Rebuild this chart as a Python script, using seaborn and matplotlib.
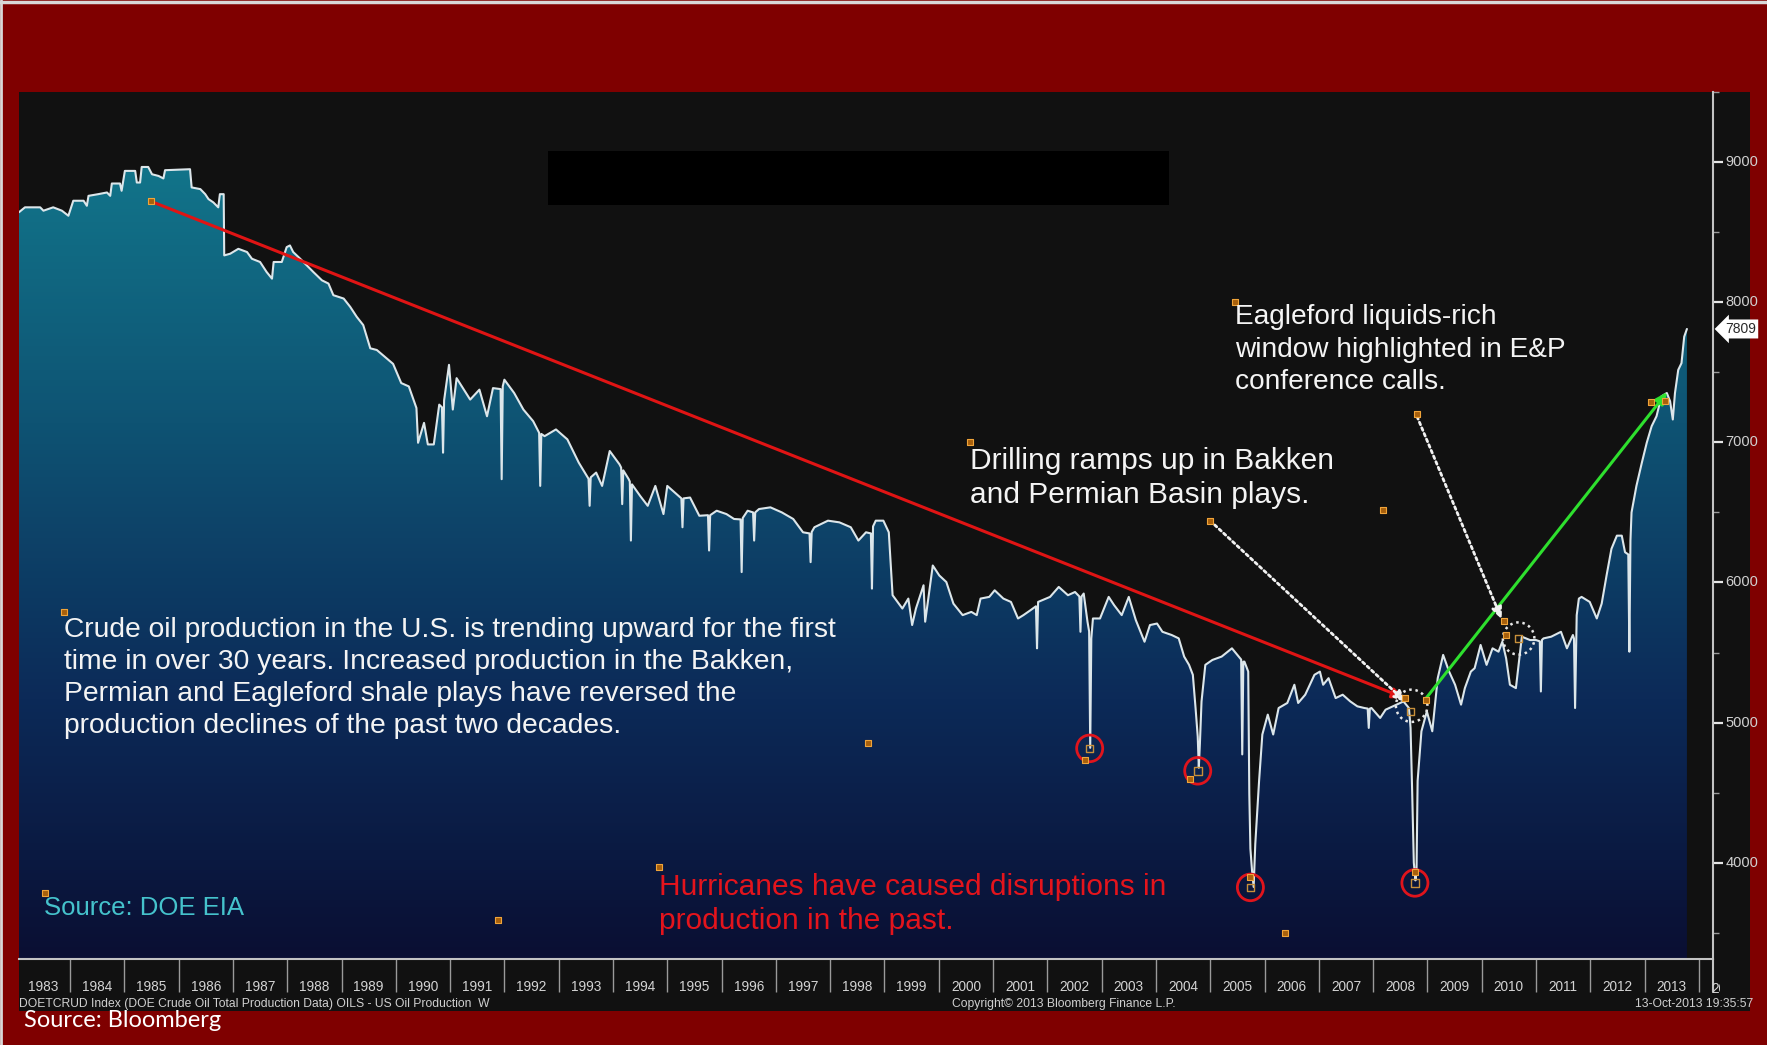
import numpy as np
import pandas as pd
import matplotlib
matplotlib.use("Agg")
import matplotlib.pyplot as plt
import seaborn as sns
from matplotlib.colors import LinearSegmentedColormap
from matplotlib.patches import Rectangle, Ellipse
from matplotlib.lines import Line2D
from matplotlib.ticker import FuncFormatter
from matplotlib.transforms import blended_transform_factory, Bbox, TransformedBbox

# US crude oil production (thousand barrels/day), weekly DOE series
dates_1980s = [1983.06, 1983.17, 1983.45, 1983.51, 1983.69, 1983.85, 1983.97, 1984.06, 1984.25, 1984.31,
               1984.34, 1984.52, 1984.68, 1984.74, 1984.77, 1984.92, 1984.95, 1985.01, 1985.20, 1985.23,
               1985.29, 1985.32, 1985.44, 1985.51, 1985.63, 1985.72, 1985.75, 1986.21, 1986.24, 1986.40,
               1986.49, 1986.55, 1986.64, 1986.73, 1986.76, 1986.83, 1986.84, 1986.95, 1987.10, 1987.26,
               1987.35, 1987.50, 1987.62, 1987.72, 1987.75, 1987.90, 1987.99, 1988.05, 1988.11, 1988.24,
               1988.36, 1988.48, 1988.64, 1988.76, 1988.85, 1989.04, 1989.16, 1989.28, 1989.40, 1989.53,
               1989.65, 1989.83, 1989.95]
prod_1980s = [8642, 8677, 8677, 8653, 8677, 8653, 8617, 8724, 8724, 8688,
              8759, 8771, 8783, 8759, 8847, 8847, 8795, 8937, 8937, 8854,
              8854, 8965, 8965, 8913, 8901, 8883, 8942, 8949, 8819, 8807,
              8771, 8736, 8712, 8677, 8771, 8771, 8334, 8346, 8381, 8358,
              8310, 8287, 8216, 8168, 8287, 8287, 8393, 8405, 8358, 8310,
              8263, 8216, 8156, 8133, 8050, 8026, 7967, 7896, 7837, 7671,
              7659, 7600, 7560]

dates_1990s = [1990.10, 1990.24, 1990.38, 1990.41, 1990.52, 1990.59, 1990.70, 1990.80, 1990.85, 1990.87,
               1990.89, 1990.98, 1991.05, 1991.12, 1991.37, 1991.54, 1991.68, 1991.79, 1991.93, 1991.95,
               1991.97, 1992.00, 1992.18, 1992.35, 1992.53, 1992.64, 1992.66, 1992.68, 1992.74, 1992.95,
               1993.16, 1993.37, 1993.52, 1993.55, 1993.57, 1993.59, 1993.69, 1993.80, 1993.94, 1994.12,
               1994.15, 1994.17, 1994.19, 1994.29, 1994.31, 1994.33, 1994.35, 1994.50, 1994.64, 1994.78,
               1994.93, 1995.00, 1995.24, 1995.26, 1995.28, 1995.30, 1995.42, 1995.59, 1995.75, 1995.77,
               1995.79, 1995.91, 1996.09, 1996.23, 1996.35, 1996.37, 1996.39, 1996.48, 1996.58, 1996.60,
               1996.62, 1996.69, 1996.90, 1997.11, 1997.32, 1997.50, 1997.62, 1997.64, 1997.66, 1997.71,
               1997.96, 1998.17, 1998.38, 1998.52, 1998.66, 1998.75, 1998.77, 1998.79, 1998.84, 1998.98,
               1999.08, 1999.15, 1999.33, 1999.44, 1999.51, 1999.58, 1999.72, 1999.75, 1999.89]
prod_1990s = [7423, 7399, 7245, 6997, 7139, 6985, 6985, 7269, 7250, 6926,
              7300, 7553, 7234, 7458, 7305, 7376, 7186, 7387, 7380, 6737,
              7400, 7447, 7352, 7234, 7151, 7068, 6689, 7060, 7044, 7092,
              7021, 6855, 6760, 6740, 6547, 6750, 6784, 6689, 6938, 6843,
              6820, 6559, 6800, 6737, 6720, 6299, 6700, 6618, 6547, 6689,
              6488, 6689, 6606, 6600, 6394, 6600, 6606, 6476, 6480, 6228,
              6480, 6512, 6488, 6453, 6450, 6074, 6460, 6512, 6500, 6299,
              6500, 6524, 6536, 6500, 6453, 6358, 6350, 6145, 6360, 6394,
              6441, 6429, 6394, 6299, 6358, 6350, 5956, 6400, 6441, 6441,
              6358, 5909, 5814, 5885, 5696, 5814, 5980, 5720, 6121]

dates_2000s = [2000.01, 2000.14, 2000.27, 2000.44, 2000.60, 2000.70, 2000.77, 2000.93, 2001.03, 2001.19,
               2001.33, 2001.46, 2001.56, 2001.69, 2001.79, 2001.81, 2001.83, 2002.05, 2002.21, 2002.38,
               2002.51, 2002.59, 2002.61, 2002.63, 2002.67, 2002.74, 2002.77, 2002.79, 2002.81, 2002.84,
               2002.97, 2003.13, 2003.23, 2003.37, 2003.50, 2003.63, 2003.79, 2003.89, 2004.02, 2004.12,
               2004.29, 2004.42, 2004.52, 2004.61, 2004.68, 2004.73, 2004.77, 2004.79, 2004.81, 2004.84,
               2004.91, 2005.04, 2005.21, 2005.40, 2005.50, 2005.57, 2005.59, 2005.61, 2005.63, 2005.70,
               2005.72, 2005.74, 2005.77, 2005.80, 2005.83, 2005.90, 2005.96, 2006.06, 2006.16, 2006.26,
               2006.42, 2006.55, 2006.62, 2006.75, 2006.92, 2007.02, 2007.08, 2007.18, 2007.31, 2007.44,
               2007.58, 2007.71, 2007.84, 2007.90, 2007.92, 2007.94, 2007.97, 2008.13, 2008.23, 2008.43,
               2008.56, 2008.66, 2008.69, 2008.72, 2008.75, 2008.78, 2008.80, 2008.82, 2008.89, 2008.99,
               2009.09, 2009.19, 2009.29, 2009.40, 2009.51, 2009.62, 2009.69, 2009.80, 2009.87, 2009.98]
prod_2000s = [6050, 6003, 5849, 5767, 5790, 5767, 5885, 5897, 5944, 5885,
              5861, 5743, 5767, 5802, 5830, 5530, 5861, 5897, 5968, 5909,
              5932, 5900, 5648, 5900, 5921, 5719, 5650, 4820, 5600, 5743,
              5743, 5897, 5838, 5767, 5897, 5731, 5577, 5696, 5707, 5648,
              5625, 5601, 5471, 5412, 5341, 5104, 4900, 4678, 4850, 5151,
              5412, 5447, 5471, 5530, 5483, 5450, 4773, 5435, 5435, 5364,
              4489, 4100, 3945, 3827, 4134, 4584, 4915, 5057, 4915, 5104,
              5140, 5270, 5140, 5199, 5341, 5364, 5270, 5317, 5175, 5199,
              5151, 5116, 5104, 5100, 4962, 5100, 5104, 5033, 5092, 5128,
              5151, 5104, 4962, 4500, 4000, 3874, 3950, 4584, 4938, 5080,
              4938, 5317, 5483, 5364, 5270, 5128, 5246, 5364, 5388, 5554]

dates_2010s = [2010.09, 2010.20, 2010.31, 2010.38, 2010.45, 2010.52, 2010.63, 2010.74, 2010.89, 2011.00,
               2011.07, 2011.09, 2011.11, 2011.14, 2011.28, 2011.46, 2011.57, 2011.68, 2011.70, 2011.72,
               2011.75, 2011.79, 2011.84, 2011.99, 2012.12, 2012.21, 2012.30, 2012.39, 2012.49, 2012.58,
               2012.64, 2012.70, 2012.72, 2012.74, 2012.76, 2012.85, 2012.95, 2013.04, 2013.13, 2013.22,
               2013.31, 2013.41, 2013.47, 2013.52, 2013.56, 2013.62, 2013.68, 2013.73, 2013.78]
prod_2010s = [5412, 5530, 5506, 5577, 5459, 5270, 5246, 5613, 5589, 5589,
              5580, 5222, 5590, 5601, 5613, 5648, 5530, 5625, 5600, 5104,
              5767, 5885, 5897, 5861, 5743, 5849, 6050, 6240, 6334, 6334,
              6216, 6200, 5506, 6300, 6500, 6689, 6855, 6997, 7115, 7186,
              7328, 7352, 7293, 7163, 7352, 7517, 7565, 7754, 7809]

year_labels = [str(y) for y in range(1983, 2014)]

# trend arrows: (start date, start value, end date, end value)
decline_trend = (1985.49, 8720, 2008.58, 5176)
recovery_trend = (2008.98, 5176, 2013.42, 7360)
drilling_pointer = (2005.00, 6440, 2008.61, 5144)
eagleford_pointer = (2008.81, 7184, 2010.37, 5736)

# hurricane outages circled in red
hurricane_dates = [2002.78, 2004.77, 2005.74, 2008.77]
hurricane_lows = [4816, 4656, 3824, 3856]

# dotted highlight rings
ring_dates = [2008.71, 2010.68]
ring_values = [5120, 5600]

# annotation anchor handles
handle_dates = [1985.49, 2005.00, 2008.81, 2000.58, 2005.45, 2008.19, 1983.88, 1998.69, 1983.54,
                1994.85, 1991.88, 2006.37, 2002.69, 2004.62, 2005.74, 2008.77, 2010.41, 2010.45,
                2008.58, 2008.98, 2013.11, 2013.38]
handle_values = [8720, 6440, 7200, 7000, 8000, 6520, 5792, 4856, 3784,
                 3968, 3592, 3496, 4736, 4600, 3896, 3936, 5728, 5624,
                 5176, 5160, 7288, 7296]
hollow_dates = [2002.78, 2004.77, 2005.74, 2008.77, 2010.68, 2008.69]
hollow_values = [4816, 4656, 3824, 3856, 5600, 5080]

dates = np.array(dates_1980s + dates_1990s + dates_2000s + dates_2010s)
production = np.array(prod_1980s + prod_1990s + prod_2000s + prod_2010s, dtype=float)
df = pd.DataFrame({"date": dates, "production": production})

sns.set_style("dark")
plt.rcParams["font.family"] = ["Liberation Sans", "DejaVu Sans"]

XMIN, XMAX = 1983.06, 2014.26
YMIN, YMAX = 3313, 9467

fig = plt.figure(figsize=(17.67, 10.45), dpi=100, facecolor="#7f0000")

# black terminal panel behind the chart
fig.add_artist(Rectangle((0.01075, 0.0325), 0.9796, 0.8794, transform=fig.transFigure,
                         facecolor="#111111", edgecolor="none", zorder=-1))
# light frame edges
fig.add_artist(Line2D([0, 1], [0.9985, 0.9985], transform=fig.transFigure, color="#d8d8d8", lw=2.5))
fig.add_artist(Line2D([0.0008, 0.0008], [0, 1], transform=fig.transFigure, color="#d8d8d8", lw=2))

ax = fig.add_axes([0.01075, 0.0823, 0.95868, 0.82966])
ax.set_facecolor("#111111")
ax.grid(False)

# vertical gradient fill under the series
cmap = LinearSegmentedColormap.from_list(
    "oilfill", [(0.0, "#0a0f33"), (0.3, "#0c2a58"), (0.62, "#0e5373"), (1.0, "#137d90")])
grad = np.linspace(0, 1, 256).reshape(-1, 1)
im = ax.imshow(grad, extent=[XMIN, XMAX, YMIN, YMAX], origin="lower", aspect="auto",
               cmap=cmap, zorder=1, interpolation="bilinear")
area = ax.fill_between(df["date"], df["production"], YMIN, facecolor="none", edgecolor="none")
im.set_clip_path(area.get_paths()[0], transform=ax.transData)

sns.lineplot(data=df, x="date", y="production", ax=ax, color="#dce6ea", lw=1.5,
             estimator=None, sort=False, zorder=3)

ax.set_xlim(XMIN, XMAX)
ax.set_ylim(YMIN, YMAX)
ax.set_xlabel("")
ax.set_ylabel("")

# spines
for s in ["top", "left"]:
    ax.spines[s].set_visible(False)
for s in ["right", "bottom"]:
    ax.spines[s].set_visible(True)
    ax.spines[s].set_color("#c4c4c4")
    ax.spines[s].set_linewidth(1.5)
ax.add_line(Line2D([1, 1], [0, -0.0377], transform=ax.transAxes, color="#c4c4c4", lw=1.5,
                   clip_on=False))

# x axis: year separators as major ticks, year names as minor tick labels
ax.set_xticks(np.arange(1984, 2015))
ax.set_xticklabels([])
ax.set_xticks(np.arange(1983.5, 2014.0, 1.0), minor=True)
ax.set_xticklabels(year_labels, minor=True)
ax.tick_params(axis="x", which="major", direction="out", length=23.5, width=1.0,
               color="#9a9a9a", bottom=True)
ax.tick_params(axis="x", which="minor", length=0, pad=15, labelsize=9.8,
               labelcolor="#d4d4d4", bottom=True)
xlabel_tf = blended_transform_factory(ax.transData, ax.transAxes)
partial = ax.text(2014.5, -0.0345, "2014", transform=xlabel_tf, ha="center", va="center",
                  fontsize=9.8, color="#d4d4d4", clip_on=True)
partial.set_clip_box(TransformedBbox(Bbox([[0, -0.1], [1.004, 1]]), ax.transAxes))

# y axis on the right
ax.yaxis.tick_right()
ax.set_yticks(np.arange(4000, 9001, 1000))
ax.set_yticks(np.arange(3500, 9501, 1000), minor=True)
ax.yaxis.set_major_formatter(FuncFormatter(lambda v, p: f"{v:.0f}"))
ax.tick_params(axis="y", which="major", direction="out", length=7, width=1.6,
               color="#e6e6e6", labelsize=10.5, labelcolor="#d0d0d0", pad=2, right=True, left=False)
ax.tick_params(axis="y", which="minor", direction="out", length=4, width=1.0,
               color="#9a9a9a", right=True, left=False)
for lbl in ax.get_yticklabels():
    lbl.set_va("center")

# last value tag
last = production[-1]
ax.text(1.007, last, f"{last:.0f}", transform=blended_transform_factory(ax.transAxes, ax.transData),
        ha="left", va="center", fontsize=10, color="#2a2a2a", clip_on=False, zorder=6,
        bbox=dict(boxstyle="larrow,pad=0.18", facecolor="white", edgecolor="none"))

# trend arrows
def arrow(spec, color, ls="-", lw=2.0, head="-|>,head_length=0.7,head_width=0.3"):
    x0, y0, x1, y1 = spec
    ax.annotate("", xy=(x1, y1), xytext=(x0, y0), zorder=5,
                arrowprops=dict(arrowstyle=head, color=color, lw=lw, linestyle=ls,
                                shrinkA=0, shrinkB=0))

arrow(decline_trend, "#e01414", lw=2.2)
arrow(recovery_trend, "#2ee02e", lw=2.2)
arrow(drilling_pointer, "#f2f2f2", ls=(0, (1, 1.2)), lw=2.0)
arrow(eagleford_pointer, "#f2f2f2", ls=(0, (1, 1.2)), lw=2.0)

for d, v in zip(hurricane_dates, hurricane_lows):
    ax.add_patch(Ellipse((d, v), width=0.48, height=190, facecolor="none",
                         edgecolor="#e0141c", lw=2.0, zorder=5))
for d, v in zip(ring_dates, ring_values):
    ax.add_patch(Ellipse((d, v), width=0.58, height=230, facecolor="none",
                         edgecolor="#e8e8e8", lw=1.8, linestyle=(0, (1, 1.5)), zorder=5))

ax.scatter(handle_dates, handle_values, marker="s", s=20, facecolor="#a8600c",
           edgecolor="#f0a43a", linewidths=0.8, zorder=6)
ax.scatter(hollow_dates, hollow_values, marker="s", s=30, facecolor="none",
           edgecolor="#c8903a", linewidths=1.0, zorder=6)

# commentary
ax.text(1983.88, 5752,
        "Crude oil production in the U.S. is trending upward for the first\n"
        "time in over 30 years. Increased production in the Bakken,\n"
        "Permian and Eagleford shale plays have reversed the\n"
        "production declines of the past two decades.",
        ha="left", va="top", fontsize=20.3, color="#f4f4f4", linespacing=1.29, zorder=7)
ax.text(2000.58, 6968, "Drilling ramps up in Bakken\nand Permian Basin plays.",
        ha="left", va="top", fontsize=21.5, color="#f4f4f4", linespacing=1.3, zorder=7)
ax.text(2005.45, 7984, "Eagleford liquids-rich\nwindow highlighted in E&P\nconference calls.",
        ha="left", va="top", fontsize=20.2, color="#f4f4f4", linespacing=1.31, zorder=7)
ax.text(1994.85, 3928, "Hurricanes have caused disruptions in\nproduction in the past.",
        ha="left", va="top", fontsize=21.5, color="#e4141c", linespacing=1.26, zorder=7)
ax.text(1983.52, 3760, "Source: DOE EIA", ha="left", va="top", fontsize=18.5,
        color="#45c2cc", zorder=7)

# blacked-out title band
fig.add_artist(Rectangle((0.3101, 0.8038), 0.3514, 0.0517, transform=fig.transFigure,
                         facecolor="#000000", edgecolor="none", zorder=5))

# terminal footer
fig.text(0.0108, 0.0395, "DOETCRUD Index (DOE Crude Oil Total Production Data) OILS - US Oil Production  W",
         fontsize=8.7, color="#d0d0d0", va="center", ha="left")
fig.text(0.539, 0.0395, "Copyright\u00a9 2013 Bloomberg Finance L.P.", fontsize=8.7,
         color="#d0d0d0", va="center", ha="left")
fig.text(0.9925, 0.0395, "13-Oct-2013 19:35:57", fontsize=8.7, color="#d0d0d0",
         va="center", ha="right")
fig.text(0.0135, 0.0239, "Source: Bloomberg", fontsize=17, color="white", va="center", ha="left",
         family=["Lato", "DejaVu Sans"], zorder=6)

fig.savefig("out.png", dpi=100, facecolor=fig.get_facecolor())
